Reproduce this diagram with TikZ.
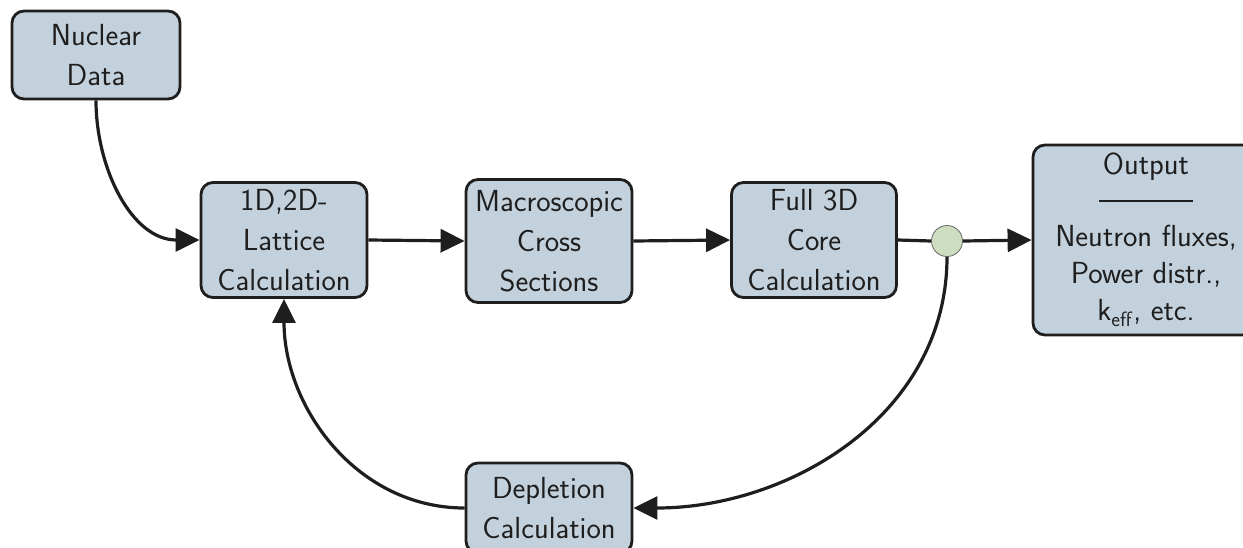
\documentclass[tikz,border=0pt]{standalone}
\usetikzlibrary{arrows.meta}
\definecolor{boxfill}{RGB}{195,209,220}
\definecolor{nodefill}{RGB}{204,221,192}
\definecolor{edge}{RGB}{30,30,30}
\tikzset{
  stage/.style={draw=edge, line width=2.8pt, rounded corners=12pt, fill=boxfill,
    align=center, inner sep=0pt, font=\sffamily\fontsize{30.5}{40}\selectfont, text=edge},
  flow/.style={draw=edge, line width=3.2pt, -{Triangle[length=24pt,width=23pt]}},
  link/.style={draw=edge, line width=3.2pt},
}
\begin{document}
\begin{tikzpicture}[x=1pt,y=-1pt]
\clip (0,0) rectangle (1243,547);
\fill[white] (0,0) rectangle (1243,547);

\node[stage, minimum width=168pt, minimum height=88pt] (nd) at (96,55) {Nuclear\\Data};
\node[stage, minimum width=166pt, minimum height=115pt] (lat) at (284,240) {1D,2D-\\Lattice\\Calculation};
\node[stage, minimum width=166pt, minimum height=123pt] (mac) at (549,241) {Macroscopic\\Cross\\Sections};
\node[stage, minimum width=165pt, minimum height=115pt] (core) at (814,240) {Full 3D\\Core\\Calculation};
\node[circle, draw=gray!80!black, line width=0.8pt, fill=nodefill, minimum size=31pt, inner sep=0pt] (split) at (947,241) {};
\node[stage, minimum width=226pt, minimum height=190pt, font=\sffamily\fontsize{30.5}{37}\selectfont] (out) at (1146,240)
  {Output\\[-2pt]\rule[8pt]{94pt}{1.6pt}\\Neutron fluxes,\\Power distr.,\\k$_{\mathsf{eff}}$, etc.};
\node[stage, minimum width=166pt, minimum height=90pt] (dep) at (549,508) {Depletion\\Calculation};

\draw[flow] (nd.south) to[out=-90, in=180] (lat.west);
\draw[flow] (lat.east) -- (mac.west);
\draw[flow] (mac.east) -- (core.west);
\draw[link] (core.east) -- (split.west);
\draw[flow] (split.east) -- (out.west);
\draw[flow] (split.south) to[out=-90, in=0] (dep.east);
\draw[flow] (dep.west) to[out=180, in=-90] (lat.south);
\end{tikzpicture}
\end{document}
